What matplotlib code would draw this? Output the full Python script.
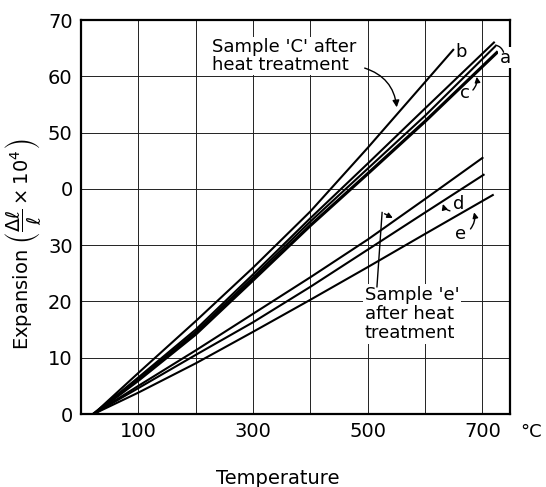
import matplotlib
matplotlib.use("Agg")
import matplotlib.pyplot as plt

# ---- data ----
temp_b = [22, 100, 200, 300, 400, 500, 649]
exp_b = [0, 7.3, 16.5, 26.0, 36.0, 47.3, 64.7]

temp_a = [22, 100, 200, 300, 400, 500, 600, 720]
exp_a = [0, 6.5, 15.0, 24.8, 34.8, 44.5, 54.3, 66.0]

temp_a2 = [22, 100, 200, 300, 400, 500, 600, 722]
exp_a2 = [0, 6.2, 14.6, 24.3, 34.2, 43.6, 53.0, 65.3]

temp_c = [22, 100, 200, 300, 400, 500, 600, 725]
exp_c = [0, 6.0, 14.2, 23.8, 33.5, 42.7, 52.0, 64.2]

temp_eh = [22, 100, 200, 300, 400, 500, 600, 700]
exp_eh = [0, 5.0, 11.3, 17.8, 24.3, 31.0, 38.2, 45.5]

temp_d = [22, 100, 200, 300, 400, 500, 600, 702]
exp_d = [0, 4.6, 10.5, 16.3, 22.6, 29.2, 35.8, 42.5]

temp_e = [22, 100, 200, 300, 400, 500, 600, 718]
exp_e = [0, 3.8, 9.0, 14.6, 20.3, 26.1, 32.0, 38.9]

x_ticks = [100, 300, 500, 700]
x_tick_labels = ["100", "300", "500", "700"]
x_grid = [100, 200, 300, 400, 500, 600, 700]
y_ticks = [0, 10, 20, 30, 40, 50, 60, 70]
y_tick_labels = ["0", "10", "20", "30", "0", "50", "60", "70"]

fig = plt.figure(figsize=(5.46, 4.87), dpi=100)
ax = fig.add_axes([81/546, 1-414/487, (510-81)/546, (414-20)/487])

ax.set_xlim(0, 748)
ax.set_ylim(0, 70)

# grid
for g in x_grid:
    ax.axvline(g, color="#222222", lw=0.7, zorder=1)
for g in y_ticks[1:-1]:
    ax.axhline(g, color="#222222", lw=0.7, zorder=1)

lw = 1.5
ax.plot(temp_b, exp_b, color="black", lw=lw, zorder=3)
ax.plot(temp_a, exp_a, color="black", lw=lw, zorder=3)
ax.plot(temp_a2, exp_a2, color="black", lw=lw, zorder=3)
ax.plot(temp_c, exp_c, color="black", lw=2.3, zorder=3)
ax.plot(temp_eh, exp_eh, color="black", lw=lw, zorder=3)
ax.plot(temp_d, exp_d, color="black", lw=lw, zorder=3)
ax.plot(temp_e, exp_e, color="black", lw=lw, zorder=3)

ax.set_xticks(x_ticks)
ax.set_xticklabels(x_tick_labels)
ax.set_yticks(y_ticks)
ax.set_yticklabels(y_tick_labels)
ax.tick_params(length=0, labelsize=14, pad=6)
for s in ax.spines.values():
    s.set_linewidth(1.6)

fig.text(520/546, 1-432/487, "°C", fontsize=13, ha="left", va="center")
fig.text(278/546, 1-478/487, "Temperature", fontsize=14, ha="center", va="center")
fig.text(24/546, 1-244/487,
         r"Expansion $\left(\dfrac{\Delta\ell}{\ell}\times10^{4}\right)$",
         fontsize=14, rotation=90, ha="center", va="center")

tfs = 13
bbox = dict(facecolor="white", edgecolor="none", pad=1)
ax.text(228, 66.8, "Sample 'C' after\nheat treatment", fontsize=tfs,
        ha="left", va="top", linespacing=1.0, bbox=bbox, zorder=4)
ax.annotate("", xy=(551, 54.0), xytext=(490, 61.6),
            arrowprops=dict(arrowstyle="-|>", color="black", lw=1.0,
                            connectionstyle="arc3,rad=-0.35", mutation_scale=10),
            zorder=4)

ax.text(662, 64.4, "b", fontsize=tfs, ha="center", va="center", zorder=4)
ax.text(740, 63.3, "a", fontsize=tfs, ha="center", va="center", bbox=bbox, zorder=4)
ax.annotate("", xy=(718, 65.6), xytext=(738, 63.8),
            arrowprops=dict(arrowstyle="-", color="black", lw=1.0,
                            connectionstyle="arc3,rad=0.4"), zorder=4)
ax.text(670, 57.0, "c", fontsize=tfs, ha="center", va="center", zorder=4)
ax.annotate("", xy=(689, 60.4), xytext=(680, 57.2),
            arrowprops=dict(arrowstyle="-|>", color="black", lw=1.0,
                            connectionstyle="arc3,rad=0.3", mutation_scale=8),
            zorder=4)

ax.text(658, 37.3, "d", fontsize=tfs, ha="center", va="center", zorder=4)
ax.annotate("", xy=(630, 37.8), xytext=(648, 36.0),
            arrowprops=dict(arrowstyle="-|>", color="black", lw=1.0,
                            connectionstyle="arc3,rad=-0.4", mutation_scale=8),
            zorder=4)
ax.text(662, 32.0, "e", fontsize=tfs, ha="center", va="center", zorder=4)
ax.annotate("", xy=(684, 36.3), xytext=(676, 32.5),
            arrowprops=dict(arrowstyle="-|>", color="black", lw=1.0,
                            connectionstyle="arc3,rad=0.3", mutation_scale=8),
            zorder=4)

ax.text(495, 22.8, "Sample 'e'\nafter heat\ntreatment", fontsize=tfs,
        ha="left", va="top", linespacing=1.1, bbox=bbox, zorder=4)
ax.plot([516, 525], [22.6, 35.8], color="black", lw=1.0, zorder=4)
ax.annotate("", xy=(548, 34.6), xytext=(525, 35.8),
            arrowprops=dict(arrowstyle="-|>", color="black", lw=1.0,
                            mutation_scale=8), zorder=4)

fig.savefig("out.png", dpi=100)
